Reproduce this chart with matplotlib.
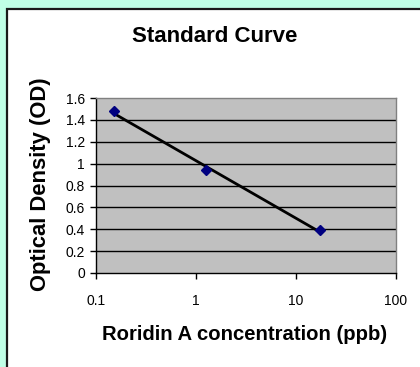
#!/usr/bin/env python3
# coding: UTF-8

import numpy as np
import matplotlib
matplotlib.use("Agg")
import matplotlib.pyplot as plt
from matplotlib.patches import Rectangle
from matplotlib.ticker import FixedLocator, FixedFormatter, NullLocator

# Standard curve data
concentration = [0.15, 1.25, 17.4]   # ppb
optical_density = [1.48, 0.94, 0.39]
x_ticks = [0.1, 1, 10, 100]
x_tick_labels = ["0.1", "1", "10", "100"]
y_ticks = [0, 0.2, 0.4, 0.6, 0.8, 1.0, 1.2, 1.4, 1.6]
y_tick_labels = ["0", "0.2", "0.4", "0.6", "0.8", "1", "1.2", "1.4", "1.6"]

plt.rcParams['font.family'] = ['Liberation Sans', 'DejaVu Sans']

W, H = 420, 367
fig = plt.figure(figsize=(W / 100, H / 100), dpi=100)
fig.patch.set_facecolor('#C0FFE6')

# white chart area with dark frame (only left/top edges fall inside the image)
frame = Rectangle((7 / W, -0.2), 1.2, 1.2 - 9 / H,
                  transform=fig.transFigure, facecolor='white',
                  edgecolor='#1a1a1a', linewidth=1.6, zorder=0)
fig.patches.append(frame)

ax = fig.add_axes([96 / W, (H - 273) / H, 300 / W, 175 / H])
ax.set_zorder(5)
ax.set_facecolor('#C0C0C0')
ax.set_xscale('log')
ax.set_xlim(0.1, 100)
ax.set_ylim(0, 1.6)

# gridlines
for v in y_ticks[1:-1]:
    ax.axhline(v, color='black', linewidth=1.0, zorder=1)

# logarithmic trendline
coef = np.polyfit(np.log10(concentration), optical_density, 1)
xs = np.logspace(np.log10(min(concentration)), np.log10(max(concentration)), 50)
ax.plot(xs, np.polyval(coef, np.log10(xs)), color='black', linewidth=2.0, zorder=3)

ax.plot(concentration, optical_density, linestyle='none', marker='D',
        markersize=5.5, color='#000080', zorder=4, clip_on=False)

ax.xaxis.set_major_locator(FixedLocator(x_ticks))
ax.xaxis.set_major_formatter(FixedFormatter(x_tick_labels))
ax.xaxis.set_minor_locator(NullLocator())
ax.yaxis.set_major_locator(FixedLocator(y_ticks))
ax.yaxis.set_major_formatter(FixedFormatter(y_tick_labels))

ax.tick_params(axis='both', direction='out', length=4, width=1,
               labelsize=10, color='black')
ax.tick_params(axis='x', pad=11)
ax.tick_params(axis='y', pad=4)

ax.spines['left'].set_color('black')
ax.spines['bottom'].set_color('black')
ax.spines['top'].set_color('#808080')
ax.spines['right'].set_color('#808080')
for s in ax.spines.values():
    s.set_linewidth(1.0)

fig.text(215 / W, 1 - 37 / H, "Standard Curve", fontsize=16,
         fontweight='bold', ha='center', va='center')
fig.text(245 / W, 1 - 335 / H, "Roridin A concentration (ppb)", fontsize=14.6,
         fontweight='bold', ha='center', va='center')
fig.text(41 / W, 1 - 184 / H, "Optical Density (OD)", fontsize=15.8,
         fontweight='bold', ha='center', va='center', rotation=90)

plt.savefig("out.png", dpi=100, facecolor=fig.get_facecolor())
